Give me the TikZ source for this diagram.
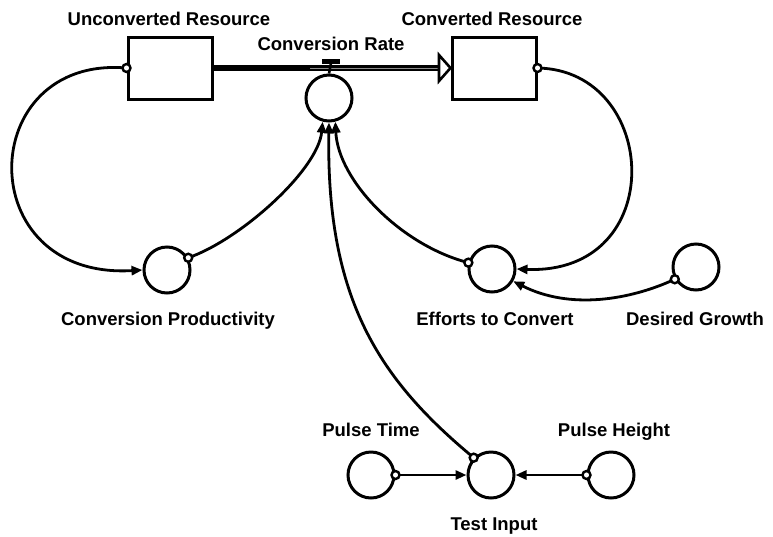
\documentclass[tikz,border=0pt]{standalone}
\usepackage{fontspec}
\setmainfont{Liberation Sans}
\newfontfamily\labfont{Liberation Sans}
\usetikzlibrary{arrows.meta}
\begin{document}
\begin{tikzpicture}[x=1pt,y=-1pt,
  stock/.style={draw, line width=3pt, minimum width=84pt, minimum height=62pt, inner sep=0pt},
  aux/.style={draw, circle, line width=3pt, minimum size=46pt, inner sep=0pt},
  lab/.style={font=\labfont\bfseries\fontsize{18.5}{22}\selectfont, anchor=base, inner sep=0pt},
  link/.style={line width=2.8pt, -{Triangle[length=11pt,width=9pt]}},
  tail/.style={draw, circle, line width=2.4pt, fill=white, minimum size=8pt, inner sep=0pt}]
\fill[white] (0,0) rectangle (773,536);
\useasboundingbox (0,0) rectangle (773,536);

% stocks
\node[stock] (ur) at (170,68) {};
\node[stock] (cvr) at (494,68) {};
% converters
\node[aux] (rate) at (329,98) {};
\node[aux] (prod) at (167,270) {};
\node[aux] (eff) at (492,269) {};
\node[aux] (des) at (696,267) {};
\node[aux] (ti) at (491,475) {};
\node[aux] (pt) at (371,475) {};
\node[aux] (ph) at (611,475) {};

% labels
\node[lab] (lur) at (169,25) {Unconverted Resource};
\node[lab] (lcvr) at (492,25) {Converted Resource};
\node[lab] (lrate) at (331,50) {Conversion Rate};
\node[lab] (lprod) at (168,325) {Conversion\ Productivity};
\node[lab] (leff) at (495,325) {Efforts to Convert};
\node[lab] (ldes) at (695,325) {Desired Growth};
\node[lab] (lpt) at (371,436) {Pulse Time};
\node[lab] (lph) at (614,436) {Pulse Height};
\node[lab] (lti) at (494,530) {Test Input};

% flow pipe
\draw[line width=6.5pt] (ur.east) -- (440,68);
\draw[black!45, line width=0.6pt] (310,68) -- (440,68);
\draw[line width=2.6pt, fill=white, line join=miter] (439,55) -- (cvr.west) -- (439,81) -- cycle;
% valve
\fill (322,59) rectangle (340,64);
\draw[line width=2.6pt] (331,63) -- (rate.north);

% connectors
\draw[link] (ur.west) .. controls (-25,55) and (-30,280) .. (prod.west);
\draw[link] (prod.30) .. controls (240,240) and (318,170) .. (rate.-105);
\draw[link] (eff.165) .. controls (400,245) and (338,180) .. (rate.-75);
\draw[link] (ti.135) .. controls (380,380) and (326,300) .. (rate.-90);
\draw[link] (cvr.east) .. controls (660,70) and (670,275) .. (eff.east);
\draw[link] (des.-150) .. controls (630,300) and (570,310) .. (eff.-30);
\draw[link] (pt.east) -- (ti.west);
\draw[link] (ph.west) -- (ti.east);

% tail dots
\node[tail] (t1) at (ur.west) {};
\node[tail] (t2) at (prod.30) {};
\node[tail] (t3) at (eff.165) {};
\node[tail] (t4) at (ti.135) {};
\node[tail] (t5) at (cvr.east) {};
\node[tail] (t6) at (des.-150) {};
\node[tail] (t7) at (pt.east) {};
\node[tail] (t8) at (ph.west) {};
\end{tikzpicture}
\end{document}
